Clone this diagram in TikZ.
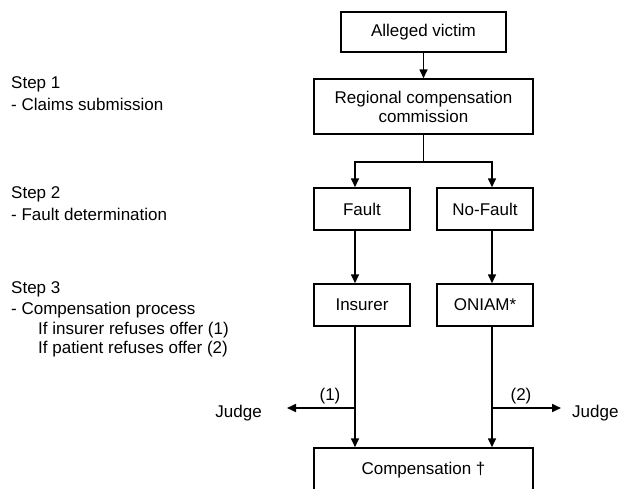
\documentclass[tikz,border=0pt]{standalone}
\usepackage{fontspec}
\setmainfont{Liberation Sans}
\usetikzlibrary{arrows.meta}
\begin{document}
\begin{tikzpicture}[x=1pt, y=-1pt,
  font=\fontsize{17}{20}\selectfont,
  box/.style={draw, line width=1.5pt, inner sep=0pt, align=center},
  smallbox/.style={box, minimum width=96pt, minimum height=42pt},
  link/.style={line width=1.6pt},
  arr/.style={link, -{Triangle[length=9pt,width=8pt]}},
  steptext/.style={anchor=base west, inner sep=0pt},
  plain/.style={inner sep=0pt}]
\useasboundingbox (0,0) rectangle (619,488);

% flow boxes
\node[box, minimum width=165pt, minimum height=40pt] (victim) at (423.5,32) {Alleged victim};
\node[box, minimum width=219pt, minimum height=55pt] (rcc) at (423.5,106.5) {Regional compensation\\[-1pt]commission};
\node[smallbox] (fault)   at (362,209) {Fault};
\node[smallbox] (nofault) at (485,209) {No-Fault};
\node[smallbox] (insurer) at (362,305) {Insurer};
\node[smallbox] (oniam)   at (485,305) {ONIAM*};
\node[box, minimum width=219pt, minimum height=44pt] (comp) at (423.5,470) {Compensation †};

% side outcomes
\node[plain, anchor=base east] (judgeL) at (262,417) {Judge};
\node[plain, anchor=base west] (judgeR) at (572,417) {Judge};
\node[plain] (lab1) at (330,396) {(1)};
\node[plain] (lab2) at (521,396) {(2)};

% lanes of the two branches
\coordinate (xl) at (355,0);
\coordinate (xr) at (492,0);
\coordinate (split) at (423.5,162);
\coordinate (jy) at (0,408);

% connectors
\draw[arr] (victim) -- (rcc);
\draw[arr] (rcc.south) -- (split) -| (fault.north -| xl);
\draw[arr] (split) -| (nofault.north -| xr);
\draw[arr] (fault.south -| xl) -- (insurer.north -| xl);
\draw[arr] (nofault.south -| xr) -- (oniam.north -| xr);
\draw[arr] (insurer.south -| xl) -- (comp.north -| xl);
\draw[arr] (oniam.south -| xr) -- (comp.north -| xr);
\draw[arr, shorten >=25pt] (jy -| xl) -- (judgeL.east |- jy);
\draw[arr, shorten >=11pt] (jy -| xr) -- (judgeR.west |- jy);

% step descriptions
\node[steptext] (s1)  at (11,88)  {Step 1};
\node[steptext] (s1a) at (11,110) {- Claims submission};
\node[steptext] (s2)  at (11,198) {Step 2};
\node[steptext] (s2a) at (11,220) {- Fault determination};
\node[steptext] (s3)  at (11,293) {Step 3};
\node[steptext] (s3a) at (11,314) {- Compensation process};
\node[steptext] (s3b) at (38,334) {If insurer refuses offer (1)};
\node[steptext] (s3c) at (38,353) {If patient refuses offer (2)};
\end{tikzpicture}
\end{document}
